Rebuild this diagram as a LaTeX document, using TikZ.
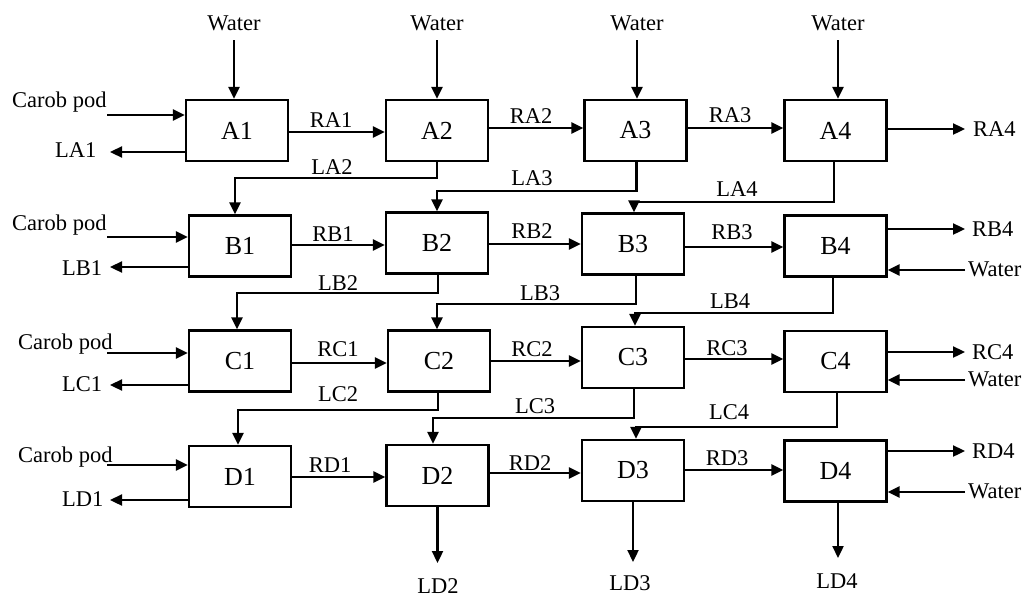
\documentclass[tikz,border=0pt]{standalone}
\usepackage{fontspec}
\setmainfont{Liberation Serif}
\usetikzlibrary{arrows.meta}

\begin{document}
\begin{tikzpicture}[x=1pt,y=-1pt,
  box/.style={draw,line width=2.3pt,minimum width=102pt,minimum height=61pt,inner sep=0pt,
    font=\fontsize{26}{29}\selectfont},
  lbl/.style={inner sep=0pt,font=\fontsize{22.5}{25}\selectfont},
  arr/.style={line width=2.3pt,-{Triangle[length=12pt,width=11pt]}}]
\useasboundingbox (0,0) rectangle (1030,597);

% ---- extraction stages ----
\node[box] (A1) at (237,130.5) {A1};
\node[box] (A2) at (437,130.5) {A2};
\node[box] (A3) at (635.5,130.5) {A3};
\node[box] (A4) at (835.5,130.5) {A4};
\node[box] (B1) at (240,246) {B1};
\node[box] (B2) at (437,243) {B2};
\node[box] (B3) at (633,244) {B3};
\node[box] (B4) at (835.5,246) {B4};
\node[box] (C1) at (240,361) {C1};
\node[box] (C2) at (439,361) {C2};
\node[box] (C3) at (633,357.5) {C3};
\node[box] (C4) at (835.5,361.5) {C4};
\node[box] (D1) at (240,476.5) {D1};
\node[box] (D2) at (437.5,475.5) {D2};
\node[box] (D3) at (633,470.5) {D3};
\node[box] (D4) at (835.5,471) {D4};

% ---- water feed on the first row ----
\foreach \n/\x in {A1/234,A2/437,A3/637,A4/838}{
  \node[lbl,anchor=base] (w\n) at (\x,30) {Water};
  \coordinate (ws\n) at (\x,40);
  \draw[arr] (ws\n) -- (ws\n |- \n.north);
}

% ---- carob pod feed and first-column liquid outlets ----
\foreach \n/\xl/\yl/\yi/\yo/\xo/\lo/\ylo in
  {A1/12/107/115/152/55/LA1/157,
   B1/12/230/237/267/62/LB1/275,
   C1/18/349/353/385/62/LC1/391,
   D1/18/462/465/500/62/LD1/506}{
  \node[lbl,anchor=base west] (cp\n) at (\xl,\yl) {Carob pod};
  \coordinate (in\n) at (107,\yi);
  \draw[arr] (in\n) -- (in\n -| \n.west);
  \coordinate (out\n) at (110,\yo);
  \draw[arr] (out\n -| \n.west) -- (out\n);
  \node[lbl,anchor=base west] (l\n) at (\xo,\ylo) {\lo};
}

% ---- solid residue between stages ----
\draw[arr] ([yshift=-1.5pt]A1.east) coordinate (ra1) -- (ra1 -| A2.west);
\draw[arr] ([yshift=2.5pt]A2.east) coordinate (ra2) -- (ra2 -| A3.west);
\draw[arr] ([yshift=2.5pt]A3.east) coordinate (ra3) -- (ra3 -| A4.west);
\draw[arr] ([yshift=1pt]B1.east) coordinate (rb1) -- (rb1 -| B2.west);
\draw[arr] ([yshift=-1pt]B2.east) coordinate (rb2) -- (rb2 -| B3.west);
\draw[arr] ([yshift=-3pt]B3.east) coordinate (rb3) -- (rb3 -| B4.west);
\draw[arr] ([yshift=-2pt]C1.east) coordinate (rc1) -- (rc1 -| C2.west);
\draw[arr] ([yshift=0pt]C2.east) coordinate (rc2) -- (rc2 -| C3.west);
\draw[arr] ([yshift=-1.5pt]C3.east) coordinate (rc3) -- (rc3 -| C4.west);
\draw[arr] ([yshift=-0.5pt]D1.east) coordinate (rd1) -- (rd1 -| D2.west);
\draw[arr] ([yshift=2.5pt]D2.east) coordinate (rd2) -- (rd2 -| D3.west);
\draw[arr] ([yshift=0.5pt]D3.east) coordinate (rd3) -- (rd3 -| D4.west);

\node[lbl,anchor=base] (tRA1) at (331,127) {RA1};
\node[lbl,anchor=base] (tRA2) at (531,123) {RA2};
\node[lbl,anchor=base] (tRA3) at (730,122) {RA3};
\node[lbl,anchor=base] (tRB1) at (333,241) {RB1};
\node[lbl,anchor=base] (tRB2) at (532,238) {RB2};
\node[lbl,anchor=base] (tRB3) at (732,239) {RB3};
\node[lbl,anchor=base] (tRC1) at (338,356) {RC1};
\node[lbl,anchor=base] (tRC2) at (532,356) {RC2};
\node[lbl,anchor=base] (tRC3) at (727,355) {RC3};
\node[lbl,anchor=base] (tRD1) at (330,472) {RD1};
\node[lbl,anchor=base] (tRD2) at (530,470) {RD2};
\node[lbl,anchor=base] (tRD3) at (727,465) {RD3};

% ---- last column: residue out, fresh water in ----
\coordinate (rA4) at (965,129);
\draw[arr] (rA4 -| A4.east) -- (rA4);
\node[lbl,anchor=base west] (tRA4) at (973,136) {RA4};
\foreach \n/\yr/\yw/\r/\ytr/\ytw in
  {B4/229/270/RB4/236/276,
   C4/352/380/RC4/359/386,
   D4/451/492/RD4/458/498}{
  \coordinate (r\n) at (965,\yr);
  \draw[arr] (r\n -| \n.east) -- (r\n);
  \node[lbl,anchor=base west] (t\r) at (972,\ytr) {\r};
  \coordinate (w\n) at (965,\yw);
  \draw[arr] (w\n) -- (w\n -| \n.east);
  \node[lbl,anchor=base west] (tw\n) at (968,\ytw) {Water};
}

% ---- liquid extract passed to the next row ----
\draw[arr] (A2.south) -- ++(0,16) -| ([xshift=-5pt]B1.north);
\draw[arr] ([xshift=1pt]A3.south) -- ++(0,29) -| (B2.north);
\draw[arr] ([xshift=-1.5pt]A4.south) -- ++(0,40) -| ([xshift=1pt]B3.north);
\draw[arr] ([xshift=1pt]B2.south) -- ++(0,18.5) -| ([xshift=-3pt]C1.north);
\draw[arr] ([xshift=3pt]B3.south) -- ++(0,28.5) -| ([xshift=-2pt]C2.north);
\draw[arr] ([xshift=-2.5pt]B4.south) -- ++(0,35.5) -| ([xshift=2pt]C3.north);
\draw[arr] ([xshift=-1pt]C2.south) -- ++(0,17.5) -| ([xshift=-2pt]D1.north);
\draw[arr] ([xshift=1pt]C3.south) -- ++(0,29) -| ([xshift=-4.5pt]D2.north);
\draw[arr] ([xshift=1.5pt]C4.south) -- ++(0,34) -| ([xshift=3pt]D3.north);

\node[lbl,anchor=base] (tLA2) at (332,174) {LA2};
\node[lbl,anchor=base] (tLA3) at (532,185) {LA3};
\node[lbl,anchor=base] (tLA4) at (737,196) {LA4};
\node[lbl,anchor=base] (tLB2) at (338,290) {LB2};
\node[lbl,anchor=base] (tLB3) at (540,300) {LB3};
\node[lbl,anchor=base] (tLB4) at (730,308) {LB4};
\node[lbl,anchor=base] (tLC2) at (338,401) {LC2};
\node[lbl,anchor=base] (tLC3) at (535,413) {LC3};
\node[lbl,anchor=base] (tLC4) at (729,419) {LC4};

% ---- final liquid outlets ----
\coordinate (eD2) at (437.5,563);
\coordinate (eD3) at (633,562);
\coordinate (eD4) at (838,558);
\draw[arr] (D2.south) -- (eD2);
\draw[arr] (D3.south) -- (eD3);
\draw[arr] (D4.south -| eD4) -- (eD4);
\node[lbl,anchor=base] (tLD2) at (438,593) {LD2};
\node[lbl,anchor=base] (tLD3) at (630,590) {LD3};
\node[lbl,anchor=base] (tLD4) at (837,588) {LD4};
\end{tikzpicture}
\end{document}
